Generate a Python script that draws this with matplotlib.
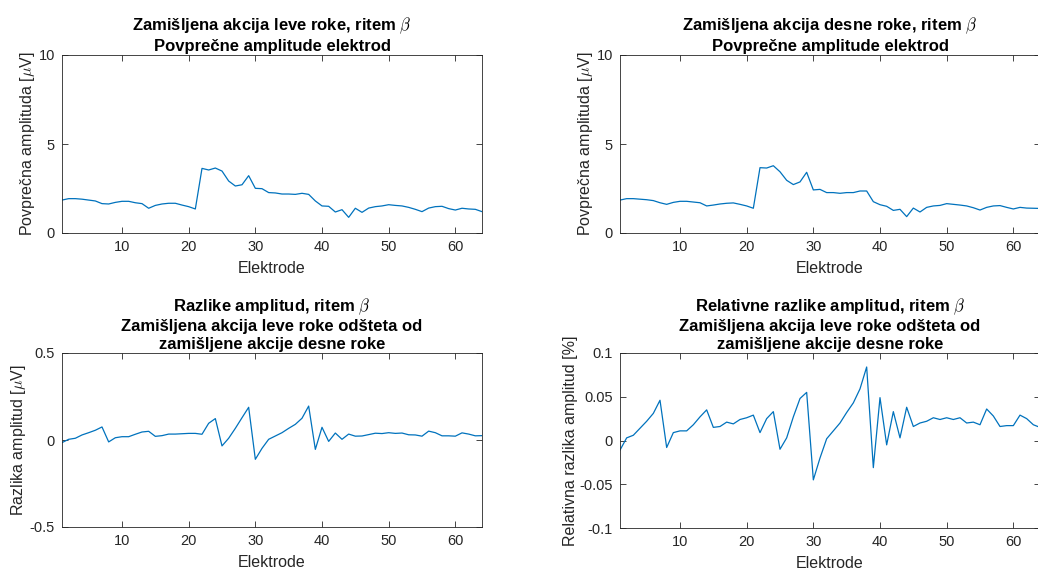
import numpy as np
import matplotlib
matplotlib.use('Agg')
import matplotlib.pyplot as plt

plt.rcParams['font.family'] = ['Liberation Sans', 'DejaVu Sans']
plt.rcParams['mathtext.fontset'] = 'cm'

# electrode index
electrodes = np.arange(1, 65)

# average amplitudes, imagined left hand action [uV]
amp_left = [1.85, 1.93, 1.93, 1.90, 1.85, 1.80, 1.65, 1.63, 1.72, 1.78,
            1.78, 1.70, 1.65, 1.39, 1.55, 1.63, 1.67, 1.67, 1.57, 1.48,
            1.35, 3.63, 3.54, 3.65, 3.48, 2.92, 2.64, 2.71, 3.22, 2.51,
            2.49, 2.27, 2.25, 2.19, 2.19, 2.17, 2.23, 2.17, 1.80, 1.52,
            1.50, 1.18, 1.31, 0.88, 1.39, 1.16, 1.40, 1.48, 1.52, 1.59,
            1.55, 1.52, 1.44, 1.33, 1.20, 1.40, 1.48, 1.50, 1.37, 1.29,
            1.39, 1.35, 1.33, 1.20]

# average amplitudes, imagined right hand action [uV]
amp_right = [1.85, 1.93, 1.93, 1.90, 1.87, 1.82, 1.70, 1.61, 1.72, 1.78,
             1.78, 1.74, 1.70, 1.52, 1.57, 1.63, 1.67, 1.69, 1.61, 1.52,
             1.39, 3.67, 3.65, 3.78, 3.44, 2.96, 2.72, 2.87, 3.41, 2.42,
             2.45, 2.27, 2.27, 2.23, 2.27, 2.27, 2.36, 2.36, 1.76, 1.59,
             1.50, 1.27, 1.33, 0.92, 1.40, 1.18, 1.44, 1.52, 1.55, 1.65,
             1.61, 1.57, 1.52, 1.42, 1.29, 1.44, 1.52, 1.54, 1.44, 1.35,
             1.44, 1.40, 1.39, 1.38]

# amplitude differences [uV]
amp_diff = [-0.015, 0.004, 0.010, 0.029, 0.042, 0.056, 0.075, -0.011, 0.013, 0.019,
            0.019, 0.033, 0.046, 0.050, 0.021, 0.025, 0.034, 0.034, 0.036, 0.038,
            0.038, 0.033, 0.096, 0.123, -0.034, 0.010, 0.067, 0.128, 0.188, -0.111,
            -0.048, 0.004, 0.023, 0.042, 0.067, 0.090, 0.125, 0.195, -0.054, 0.073,
            -0.008, 0.040, 0.004, 0.034, 0.022, 0.023, 0.031, 0.039, 0.037, 0.042,
            0.038, 0.040, 0.030, 0.029, 0.022, 0.051, 0.042, 0.024, 0.024, 0.022,
            0.041, 0.034, 0.024, 0.025]

# relative amplitude differences [%]
rel_diff = [-0.011, 0.003, 0.006, 0.014, 0.022, 0.031, 0.046, -0.008, 0.009, 0.011,
            0.011, 0.018, 0.027, 0.035, 0.015, 0.016, 0.021, 0.019, 0.024, 0.026,
            0.029, 0.009, 0.025, 0.033, -0.010, 0.003, 0.027, 0.048, 0.055, -0.045,
            -0.020, 0.002, 0.011, 0.020, 0.032, 0.043, 0.059, 0.084, -0.031, 0.049,
            -0.005, 0.033, 0.003, 0.038, 0.016, 0.020, 0.022, 0.026, 0.024, 0.026,
            0.024, 0.026, 0.020, 0.021, 0.018, 0.036, 0.028, 0.016, 0.017, 0.017,
            0.029, 0.025, 0.018, 0.015]

blue = '#0072BD'
grey = '#262626'
W, H = 1038, 574

fig = plt.figure(figsize=(W / 100, H / 100), dpi=100)


def make_axes(left, top, right, bottom):
    return fig.add_axes([left / W, 1 - bottom / H, (right - left) / W, (bottom - top) / H])


def style(ax, data, title, ylabel, yticks, ylim):
    ax.plot(electrodes, data, color=blue, lw=0.9)
    ax.set_xlim(1, 64)
    ax.set_ylim(*ylim)
    ax.set_xticks([10, 20, 30, 40, 50, 60])
    ax.set_yticks(yticks)
    ax.tick_params(direction='in', top=True, right=True, length=4, width=0.6,
                   colors=grey, labelsize=10.5, pad=5)
    for s in ax.spines.values():
        s.set_color(grey)
        s.set_linewidth(0.6)
    ax.set_xlabel('Elektrode', fontsize=11.5, color=grey, labelpad=5)
    ax.set_ylabel(ylabel, fontsize=11.5, color=grey, labelpad=1)
    ax.set_title(title, fontsize=12, fontweight='bold', color='black', pad=3,
                 linespacing=1.2)


ax1 = make_axes(62, 55, 482, 233)
style(ax1, amp_left,
      'Zamišljena akcija leve roke, ritem $\\beta$\nPovprečne amplitude elektrod',
      'Povprečna amplituda [$\\mu$V]', [0, 5, 10], (0, 10))

ax2 = make_axes(620, 55, 1040, 233)
style(ax2, amp_right,
      'Zamišljena akcija desne roke, ritem $\\beta$\nPovprečne amplitude elektrod',
      'Povprečna amplituda [$\\mu$V]', [0, 5, 10], (0, 10))

ax3 = make_axes(62, 353, 482, 527)
style(ax3, amp_diff,
      'Razlike amplitud, ritem $\\beta$\nZamišljena akcija leve roke odšteta od\n'
      'zamišljene akcije desne roke',
      'Razlika amplitud [$\\mu$V]', [-0.5, 0, 0.5], (-0.5, 0.5))
ax3.set_yticklabels(['-0.5', '0', '0.5'])

ax4 = make_axes(620, 353, 1040, 528)
style(ax4, rel_diff,
      'Relativne razlike amplitud, ritem $\\beta$\nZamišljena akcija leve roke odšteta od\n'
      'zamišljene akcije desne roke',
      'Relativna razlika amplitud [%]', [-0.1, -0.05, 0, 0.05, 0.1], (-0.1, 0.1))
ax4.set_yticklabels(['-0.1', '-0.05', '0', '0.05', '0.1'])

fig.savefig('out.png', dpi=100)
